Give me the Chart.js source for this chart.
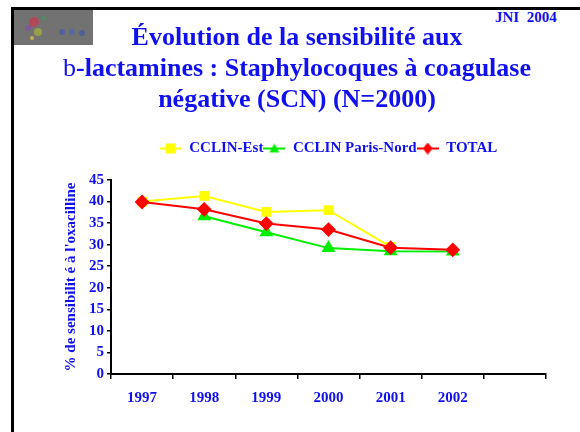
<!DOCTYPE html>
<html>
<head>
<meta charset="utf-8">
<script src="https://cdn.jsdelivr.net/npm/chart.js@4.4.1/dist/chart.umd.min.js"></script>
<style>
  body { margin: 0; background: #fff; }
  #page { position: relative; width: 580px; height: 432px; overflow: hidden; background: #fff; }
  #frameTop { position: absolute; left: 11px; top: 7px; width: 569px; height: 3px; background: #000; }
  #frameLeft { position: absolute; left: 11px; top: 7px; width: 3px; height: 425px; background: #000; }
  #logo { position: absolute; left: 14px; top: 10px; }
  #jni { position: absolute; left: 495px; top: 9px; font: bold 15px "Liberation Serif", serif; color: #1010f0; }
  #title { position: absolute; left: 0; top: 21px; width: 594px; text-align: center;
           font: bold 26px "Liberation Serif", serif; color: #1010f0; line-height: 31px; }
  #title .sym { font-weight: normal; }
  #chart { position: absolute; left: 0; top: 10px; }
</style>
</head>
<body>
<div id="page">
  <div id="frameTop"></div>
  <div id="frameLeft"></div>
  <canvas id="logo" width="79" height="35"></canvas>
  <div id="jni">JNI&nbsp; 2004</div>
  <div id="title">Évolution de la sensibilité aux<br><span class="sym">b</span>-lactamines : Staphylocoques à coagulase<br>négative (SCN) (N=2000)</div>
  <canvas id="chart" width="580" height="422"></canvas>
</div>
<script>
// data
const years = ['1997', '1998', '1999', '2000', '2001', '2002', ''];
const cclinEst = [40.0, 41.3, 37.6, 38.0, 29.5, null, null];
const cclinParisNord = [null, 36.6, 32.9, 29.2, 28.5, 28.4, null];
const total = [39.9, 38.2, 34.9, 33.5, 29.3, 28.8, null];
const yTicks = [0, 5, 10, 15, 20, 25, 30, 35, 40, 45];

const blue = '#1010f0';
const fontFamily = '"Liberation Serif", serif';

// little greyish logo block
const lg = document.getElementById('logo').getContext('2d');
lg.fillStyle = '#727272';
lg.fillRect(0, 0, 79, 35);
const dots = [['#b04858', 20, 12, 5], ['#98a048', 24, 22, 4], ['#805890', 14, 18, 3], ['#5060a0', 48, 22, 3],
              ['#5868a0', 58, 22, 3], ['#506090', 68, 23, 3], ['#509060', 30, 8, 2], ['#c0b050', 18, 28, 2]];
dots.forEach(([c, x, y, r]) => { lg.fillStyle = c; lg.beginPath(); lg.arc(x, y, r, 0, Math.PI * 2); lg.fill(); });

function legendIcon(color, style) {
  const c = document.createElement('canvas');
  c.width = 22; c.height = 12;
  const g = c.getContext('2d');
  g.strokeStyle = color; g.fillStyle = color; g.lineWidth = 2;
  g.beginPath(); g.moveTo(0, 6); g.lineTo(22, 6); g.stroke();
  g.beginPath();
  if (style === 'rect') g.rect(6, 1, 10, 10);
  else if (style === 'triangle') { g.moveTo(11, 1); g.lineTo(16, 10); g.lineTo(6, 10); g.closePath(); }
  else { g.moveTo(11, 0); g.lineTo(16, 6); g.lineTo(11, 12); g.lineTo(6, 6); g.closePath(); }
  g.fill();
  return c;
}

const seriesDefs = [
  { label: 'CCLIN-Est', data: cclinEst, color: '#ffff00', style: 'rect', radius: 5.5, order: 2 },
  { label: 'CCLIN Paris-Nord', data: cclinParisNord, color: '#00ee00', style: 'triangle', radius: 6, order: 1 },
  { label: 'TOTAL', data: total, color: '#ff0000', style: 'rectRot', radius: 6, order: 0 }
];

// extra room under the legend
const legendGap = {
  id: 'legendGap',
  beforeInit(chart) {
    const fit = chart.legend.fit;
    chart.legend.fit = function () {
      fit.bind(chart.legend)();
      this.height += 14;
    };
  }
};

new Chart(document.getElementById('chart'), {
  type: 'line',
  data: {
    labels: years,
    datasets: seriesDefs.map(s => ({
      label: s.label,
      data: s.data,
      borderColor: s.color,
      backgroundColor: s.color,
      borderWidth: 2,
      pointStyle: s.style,
      pointRadius: s.radius,
      pointHoverRadius: s.radius,
      order: s.order,
      tension: 0,
      spanGaps: false
    }))
  },
  plugins: [legendGap],
  options: {
    responsive: false,
    animation: false,
    layout: { padding: { left: 60, right: 34, top: 131, bottom: 15 } },
    plugins: {
      tooltip: { enabled: false },
      legend: {
        position: 'top',
        fullSize: false,
        labels: {
          usePointStyle: true,
          pointStyleWidth: 22,
          padding: 0,
          color: blue,
          font: { family: fontFamily, size: 15, weight: 'bold' },
          generateLabels: () => seriesDefs.map((s, i) => ({
            text: s.label,
            pointStyle: legendIcon(s.color, s.style),
            fontColor: blue,
            datasetIndex: i,
            lineWidth: 0,
            hidden: false
          }))
        }
      }
    },
    scales: {
      x: {
        offset: true,
        grid: { offset: true, drawOnChartArea: false, drawTicks: true, tickLength: 5, color: '#000', lineWidth: 1.5 },
        border: { display: true, color: '#000', width: 2 },
        ticks: { color: blue, padding: 10, font: { family: fontFamily, size: 15, weight: 'bold' }, maxRotation: 0 }
      },
      y: {
        min: 0,
        max: 45,
        afterBuildTicks: scale => { scale.ticks = yTicks.map(v => ({ value: v })); },
        afterFit: scale => { scale.width = 111 - 60; },
        grid: { drawOnChartArea: false, drawTicks: true, tickLength: 4, color: '#000', lineWidth: 1.5 },
        border: { display: true, color: '#000', width: 2 },
        ticks: { color: blue, padding: 3, font: { family: fontFamily, size: 15, weight: 'bold' } },
        title: {
          display: true,
          text: "% de sensibilit é à l'oxacilline",
          color: blue,
          padding: { top: 2, bottom: 0 },
          font: { family: fontFamily, size: 15, weight: 'bold' }
        }
      }
    }
  }
});
</script>
</body>
</html>
